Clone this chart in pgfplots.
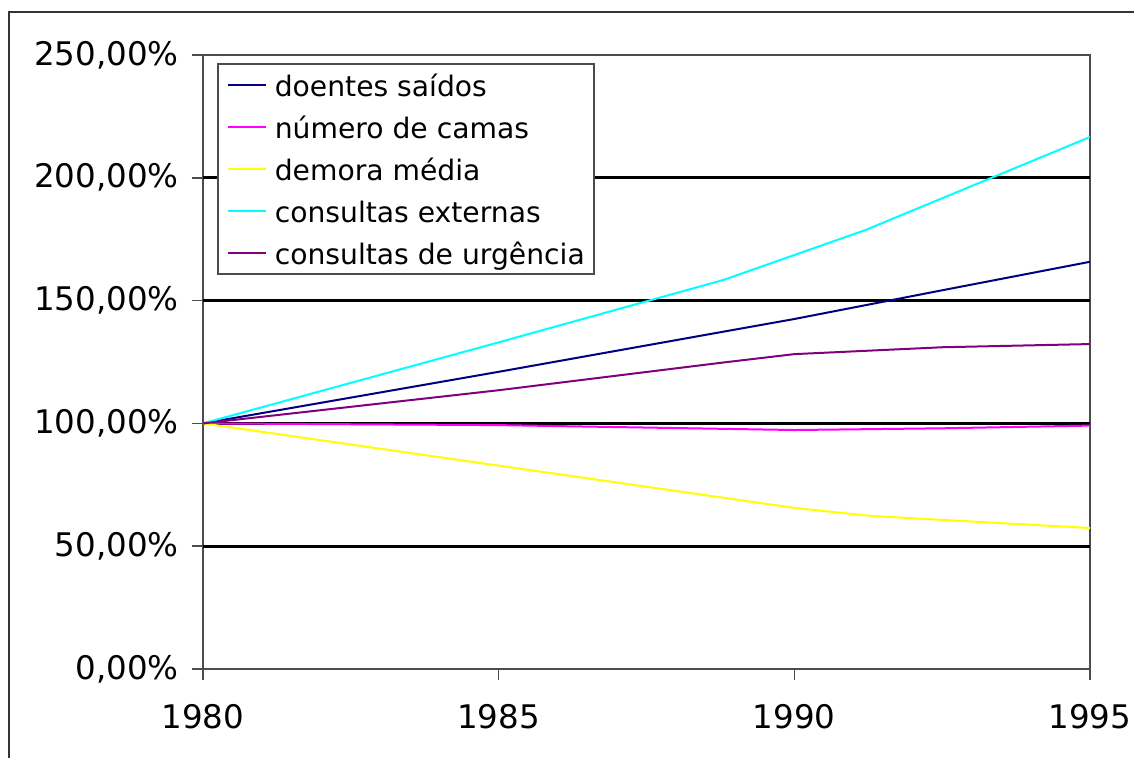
\documentclass[border=0pt]{standalone}
\usepackage{fontspec}
\setmainfont{DejaVu Sans}
\usepackage{pgfplots}
\pgfplotsset{compat=1.18}
\definecolor{cnavy}{RGB}{0,0,128}
\definecolor{cmag}{RGB}{255,0,255}
\definecolor{cyel}{RGB}{255,255,0}
\definecolor{ccyan}{RGB}{0,255,255}
\definecolor{cpurp}{RGB}{128,0,128}
\begin{document}
\begin{tikzpicture}
\begin{axis}[
  name=ax, at={(0,0)}, anchor=south west,
  scale only axis, width=443.5pt, height=307pt,
  xmin=1980, xmax=1995, ymin=0, ymax=250,
  xtick={1980,1985,1990,1995},
  xticklabels={1980,1985,1990,1995},
  ytick={0,50,100,150,200,250},
  yticklabels={{0,00\%},{50,00\%},{100,00\%},{150,00\%},{200,00\%},{250,00\%}},
  tick pos=left, tick align=outside, major tick length=5.5pt,
  tick style={gray!60!black, line width=0.8pt},
  axis line style={gray!60!black, line width=1pt},
  ticklabel style={font=\fontsize{16.25}{18}\selectfont},
  yticklabel style={anchor=east, inner sep=0pt, xshift=-6.5pt},
  xticklabel style={anchor=north, inner sep=0pt, yshift=-12pt},
  legend style={at={(0.0158,0.987)}, anchor=north west,
    draw=gray!60!black, line width=0.8pt,
    font=\fontsize{14.1}{16}\selectfont,
    inner xsep=4.5pt, inner ysep=4pt, row sep=8pt,
    nodes={inner sep=0pt, text height=12.5pt, text depth=0.5pt}},
  legend cell align=left,
  legend image code/.code={\draw[#1, line width=1pt] (0pt,0pt) -- (19pt,0pt); \path (23pt,0pt);},
]
\draw[black, line width=1.5pt] (axis cs:1980,50) -- (axis cs:1995,50);
\draw[black, line width=1.5pt] (axis cs:1980,100) -- (axis cs:1995,100);
\draw[black, line width=1.5pt] (axis cs:1980,150) -- (axis cs:1995,150);
\draw[black, line width=1.5pt] (axis cs:1980,200) -- (axis cs:1995,200);
\addplot[cnavy, line width=1pt] coordinates {(1980,100) (1985,121) (1990,142.5) (1992.5,154.2) (1995,165.8)};
\addlegendentry{doentes saídos}
\addplot[cmag, line width=1pt] coordinates {(1980,100) (1985,99.3) (1987.5,98.3) (1990,97.3) (1992.5,98.0) (1995,99.1)};
\addlegendentry{número de camas}
\addplot[cyel, line width=1pt] coordinates {(1980,100) (1985,82.8) (1990,65.6) (1991.3,62.3) (1995,57.4)};
\addlegendentry{demora média}
\addplot[ccyan, line width=1pt] coordinates {(1980,100) (1985,133) (1988.8,158.4) (1991.2,178.7) (1995,216.6)};
\addlegendentry{consultas externas}
\addplot[cpurp, line width=1pt] coordinates {(1980,100) (1985,113.5) (1988.8,124.8) (1990,128.2) (1992.5,131) (1995,132.3)};
\addlegendentry{consultas de urgência}
\end{axis}
\draw[gray!40!black, line width=1pt] (-97pt,-60pt) -- (-97pt,328.5pt) -- (480pt,328.5pt);
\pgfresetboundingbox
\path[use as bounding box] (-101.5pt,-44.5pt) rectangle (465.5pt,334.5pt);
\end{tikzpicture}
\end{document}
